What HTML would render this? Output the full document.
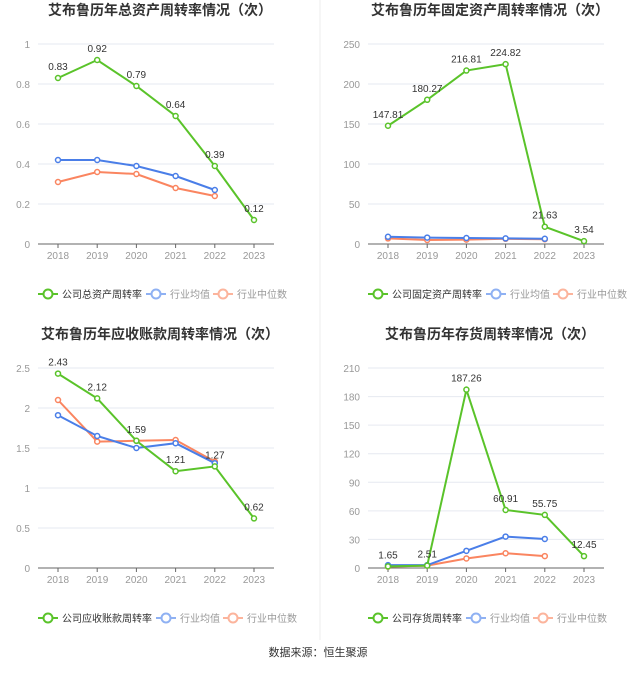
<!DOCTYPE html>
<html><head><meta charset="utf-8"><style>
body{margin:0;background:#fff;font-family:"Liberation Sans","Noto Sans CJK SC",sans-serif;}
svg text{font-family:"Liberation Sans","Noto Sans CJK SC",sans-serif;}
</style></head><body>
<svg id="s" width="637" height="668" xmlns="http://www.w3.org/2000/svg">
<line x1="320" y1="0" x2="320" y2="640" stroke="#eee"/>
<text x="318" y="656" font-size="11" fill="#333" text-anchor="middle">数据来源：恒生聚源</text>
</svg>
<script>
const years=["2018","2019","2020","2021","2022","2023"];
const c1Title="艾布鲁历年总资产周转率情况（次）";
const c1Ticks=[0,0.2,0.4,0.6,0.8,1];
const c1Company=[0.83,0.92,0.79,0.64,0.39,0.12];
const c1Avg=[0.42,0.42,0.39,0.34,0.27];
const c1Med=[0.31,0.36,0.35,0.28,0.24];
const c2Title="艾布鲁历年固定资产周转率情况（次）";
const c2Ticks=[0,50,100,150,200,250];
const c2Company=[147.81,180.27,216.81,224.82,21.63,3.54];
const c2Avg=[9,8,7.5,7,6.5];
const c2Med=[7,5,5.5,6.5,6];
const c3Title="艾布鲁历年应收账款周转率情况（次）";
const c3Ticks=[0,0.5,1,1.5,2,2.5];
const c3Company=[2.43,2.12,1.59,1.21,1.27,0.62];
const c3Avg=[1.91,1.65,1.50,1.56,1.31];
const c3Med=[2.10,1.58,1.59,1.60,1.33];
const c4Title="艾布鲁历年存货周转率情况（次）";
const c4Ticks=[0,30,60,90,120,150,180,210];
const c4Company=[1.65,2.51,187.26,60.91,55.75,12.45];
const c4Avg=[3,3,18,33,30.5];
const c4Med=[1.5,2.5,10,15.5,12.5];
const svg=document.getElementById('s');
const NS='http://www.w3.org/2000/svg';
function mk(tag,attrs,parent){const e=document.createElementNS(NS,tag);for(const k in attrs)e.setAttribute(k,attrs[k]);(parent||svg).appendChild(e);return e;}
function chart(ox,oy,title,ticks,comp,avg,med,label,id){
  const g=mk('g',{});
  
  
  const x0=ox+38,x1=ox+274,yb=oy+244,yt=oy+44,max=ticks[ticks.length-1];
  const xs=i=>ox+58+i*39.2, ys=v=>yb-(v/max)*(yb-yt);
  const t=mk('text',{x:ox+160,y:oy+15,'font-size':14,'font-weight':'bold',fill:'#333','text-anchor':'middle'},g);t.textContent=title;
  
  
  ticks.forEach(v=>{
    const y=ys(v);
    if(v>0){const l=mk('line',{x1:x0,x2:x1,y1:y,y2:y,stroke:'#e6e9f0'},g);
      
      }
    const tx=mk('text',{x:x0-8,y:y+4,'font-size':10,fill:'#999','text-anchor':'end'},g);tx.textContent=String(v);
    
    
  });
  const ax=mk('line',{x1:x0,x2:x1,y1:yb,y2:yb,stroke:'#666'},g);
  
  
  years.forEach((yr,i)=>{
    const tk=mk('line',{x1:xs(i),x2:xs(i),y1:yb,y2:yb+4,stroke:'#666'},g);
    
    
    const tx=mk('text',{x:xs(i),y:yb+15,'font-size':10,fill:'#999','text-anchor':'middle'},g);tx.textContent=yr;
    
    
  });
  function series(arr,color,name,labels){
    const p=mk('polyline',{points:arr.map((v,i)=>xs(i)+','+ys(v)).join(' '),fill:'none',stroke:color,'stroke-width':2},g);
    
    
    arr.forEach((v,i)=>{
      const c=mk('circle',{cx:xs(i),cy:ys(v),r:2.5,fill:'#fff',stroke:color,'stroke-width':1.5},g);
      
      
      if(labels){const tx=mk('text',{x:xs(i),y:ys(v)-8,'font-size':10,fill:'#333','text-anchor':'middle'},g);tx.textContent=String(v);
        
        }
    });
  }
  series(med,'#fa8560','industry-median',false);
  series(avg,'#4a7ee8','industry-average',false);
  series(comp,'#5ac32a','company',true);
  const ly=oy+294;
  const items=[[label,'#5ac32a','#333',ox+38],['行业均值','#8fb1f3','#999',ox+ox*0+(label.length>7?ox*0+140:140)],['行业中位数','#fcb49c','#999',ox+207]];
  items[1][3]=ox+38+label.length*10+28;
  items[2][3]=items[1][3]+67;
  items.forEach(it=>{
    const lg=mk('g',{},g);
    
    
    mk('line',{x1:it[3],x2:it[3]+20,y1:ly,y2:ly,stroke:it[1],'stroke-width':2},lg);
    mk('circle',{cx:it[3]+10,cy:ly,r:4.5,fill:'#fff',stroke:it[1],'stroke-width':2},lg);
    const tx=mk('text',{x:it[3]+24,y:ly+4,'font-size':10,fill:it[2]},lg);tx.textContent=it[0];
  });
}
chart(0,0,c1Title,c1Ticks,c1Company,c1Avg,c1Med,'公司总资产周转率','chart-total-asset-turnover');
chart(330,0,c2Title,c2Ticks,c2Company,c2Avg,c2Med,'公司固定资产周转率','chart-fixed-asset-turnover');
chart(0,324,c3Title,c3Ticks,c3Company,c3Avg,c3Med,'公司应收账款周转率','chart-receivables-turnover');
chart(330,324,c4Title,c4Ticks,c4Company,c4Avg,c4Med,'公司存货周转率','chart-inventory-turnover');
</script>
</body></html>
